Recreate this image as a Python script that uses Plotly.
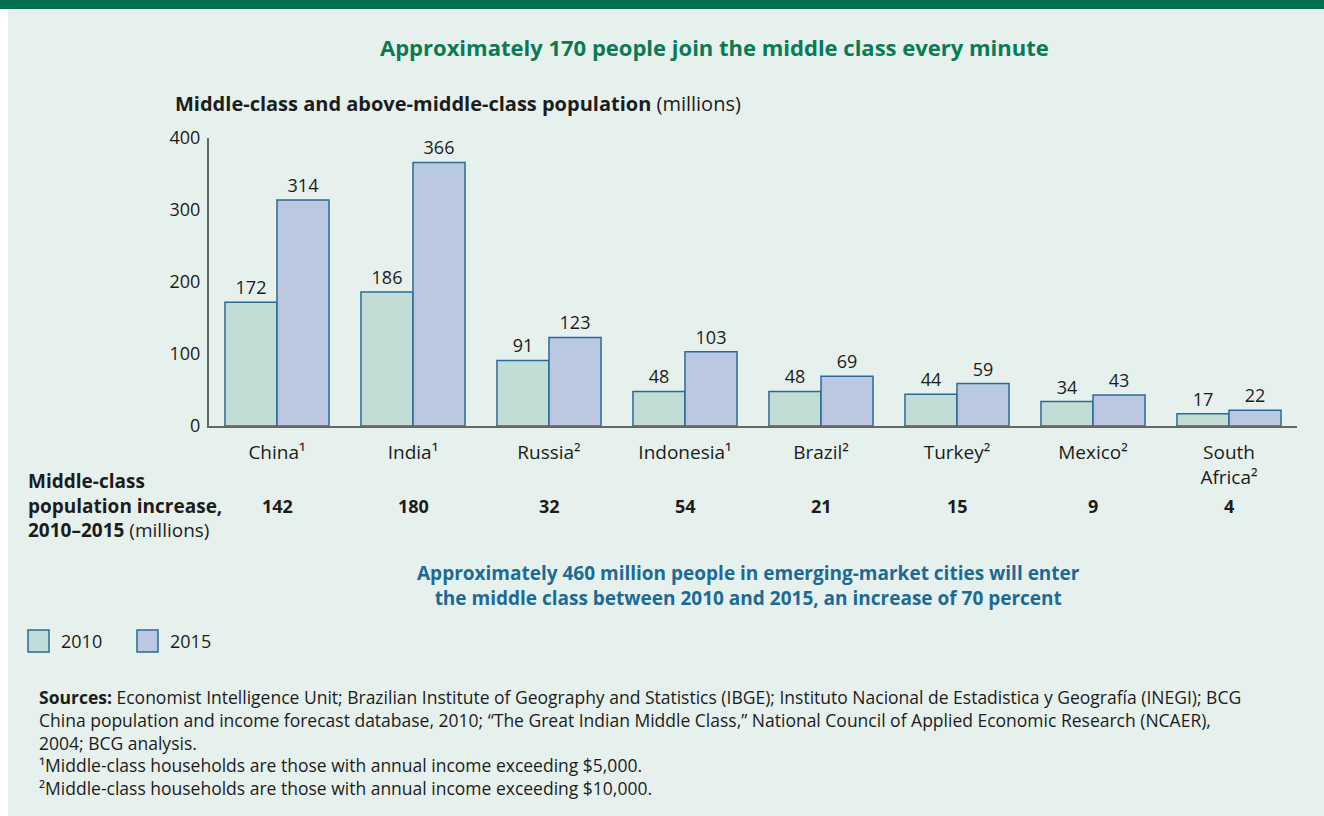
import plotly.graph_objects as go

countries = ["China¹", "India¹", "Russia²", "Indonesia¹", "Brazil²", "Turkey²", "Mexico²", "South<br>Africa²"]
pop_2010 = [172, 186, 91, 48, 48, 44, 34, 17]
pop_2015 = [314, 366, 123, 103, 69, 59, 43, 22]
increase = [142, 180, 32, 54, 21, 15, 9, 4]
y_ticks = [0, 100, 200, 300, 400]

source_lines = [
    "<b>Sources:</b> Economist Intelligence Unit; Brazilian Institute of Geography and Statistics (IBGE); "
    "Instituto Nacional de Estadistica y Geografía (INEGI); BCG",
    "China population and income forecast database, 2010; “The Great Indian Middle Class,” "
    "National Council of Applied Economic Research (NCAER),",
    "2004; BCG analysis.",
    "¹Middle-class households are those with annual income exceeding $5,000.",
    "²Middle-class households are those with annual income exceeding $10,000.",
]
increase_label = ["<b>Middle-class</b>", "<b>population increase,</b>", "<b>2010–2015</b> (millions)"]
blue_lines = ["<b>Approximately 460 million people in emerging-market cities will enter</b>",
              "<b>the middle class between 2010 and 2015, an increase of 70 percent</b>"]

FONT = "Open Sans"
DARK = "#1c1c1c"
BG = "#e6f0ed"
GREEN = "#00704f"
BLUE_TXT = "#1c6a96"
EDGE = "#2b6a97"

W, H = 1324, 816
L, R, T, B = 209, 1297, 138, 426


def px(x):
    return (x - L) / (R - L)


def py(y):
    return (B - y) / (B - T)


fig = go.Figure()
fig.add_trace(go.Bar(x=countries, y=pop_2010, name="2010",
                     marker=dict(color="#c1ddd6", line=dict(color=EDGE, width=1.5)),
                     text=pop_2010, textposition="outside", cliponaxis=False,
                     textfont=dict(size=18, color=DARK, family=FONT)))
fig.add_trace(go.Bar(x=countries, y=pop_2015, name="2015",
                     marker=dict(color="#bac9e1", line=dict(color=EDGE, width=1.5)),
                     text=pop_2015, textposition="outside", cliponaxis=False,
                     textfont=dict(size=18, color=DARK, family=FONT)))

shapes = [
    dict(type="rect", xref="paper", yref="paper", x0=px(-5), x1=px(8), y0=py(H + 5), y1=py(-10),
         fillcolor="white", line_width=0, layer="below"),
    dict(type="rect", xref="paper", yref="paper", x0=px(-5), x1=px(W + 5), y0=py(9), y1=py(-5),
         fillcolor=GREEN, line_width=0),
]

anns = [
    dict(text="<b>Approximately 170 people join the middle class every minute</b>",
         x=px(714), y=py(47), font=dict(size=22, color="#0a7a55")),
    dict(text="<b>Middle-class and above-middle-class population</b> (millions)",
         x=px(173), y=py(103), xanchor="left", font=dict(size=20, color=DARK)),
    dict(text="<br>".join(increase_label), x=px(26), y=py(505), xanchor="left", align="left",
         font=dict(size=19, color=DARK)),
    dict(text="<br>".join(blue_lines), x=px(748), y=py(585), align="center",
         font=dict(size=19, color=BLUE_TXT)),
    dict(text="<br>".join(source_lines), x=px(37), y=py(742), xanchor="left", align="left",
         font=dict(size=17.5, color=DARK)),
]

for a in anns:
    a.setdefault("xref", "paper")
    a.setdefault("yref", "paper")
    a.setdefault("showarrow", False)
    a.setdefault("xanchor", "center")
    a.setdefault("yanchor", "middle")

for c, v in zip(countries, increase):
    anns.append(dict(text=f"<b>{v}</b>", x=c, xref="x", y=py(506), yref="paper", yanchor="middle",
                     showarrow=False, font=dict(size=18, color=DARK)))

# legend
for x0, col, lab in [(28, "#c1ddd6", "2010"), (137, "#bac9e1", "2015")]:
    shapes.append(dict(type="rect", xref="paper", yref="paper", x0=px(x0), x1=px(x0 + 21),
                       y0=py(652), y1=py(630), fillcolor=col, line=dict(color=EDGE, width=1.5)))
    anns.append(dict(text=lab, x=px(x0 + 31), y=py(641), xref="paper", yref="paper", xanchor="left",
                     yanchor="middle", showarrow=False, font=dict(size=18, color=DARK)))

fig.update_layout(
    width=W, height=H,
    margin=dict(l=L, r=W - R, t=T, b=H - B),
    paper_bgcolor=BG, plot_bgcolor=BG,
    font=dict(family=FONT, color=DARK),
    barmode="group", bargap=0.235, bargroupgap=0,
    showlegend=False,
    shapes=shapes, annotations=anns,
    xaxis=dict(showline=True, linecolor="#666666", linewidth=2, showgrid=False, ticks="",
               tickfont=dict(size=19, color=DARK), range=[-0.5, 7.5], fixedrange=True,
               ticklabelstandoff=8),
    yaxis=dict(range=[0, 400], tickvals=y_ticks, showline=True, linecolor="#666666", linewidth=2,
               showgrid=False, zeroline=False, ticks="", tickfont=dict(size=18, color=DARK),
               ticklabelstandoff=3),
)

fig.write_html("out.html", config={"displayModeBar": False},
               post_script="document.body.style.margin='0';")
